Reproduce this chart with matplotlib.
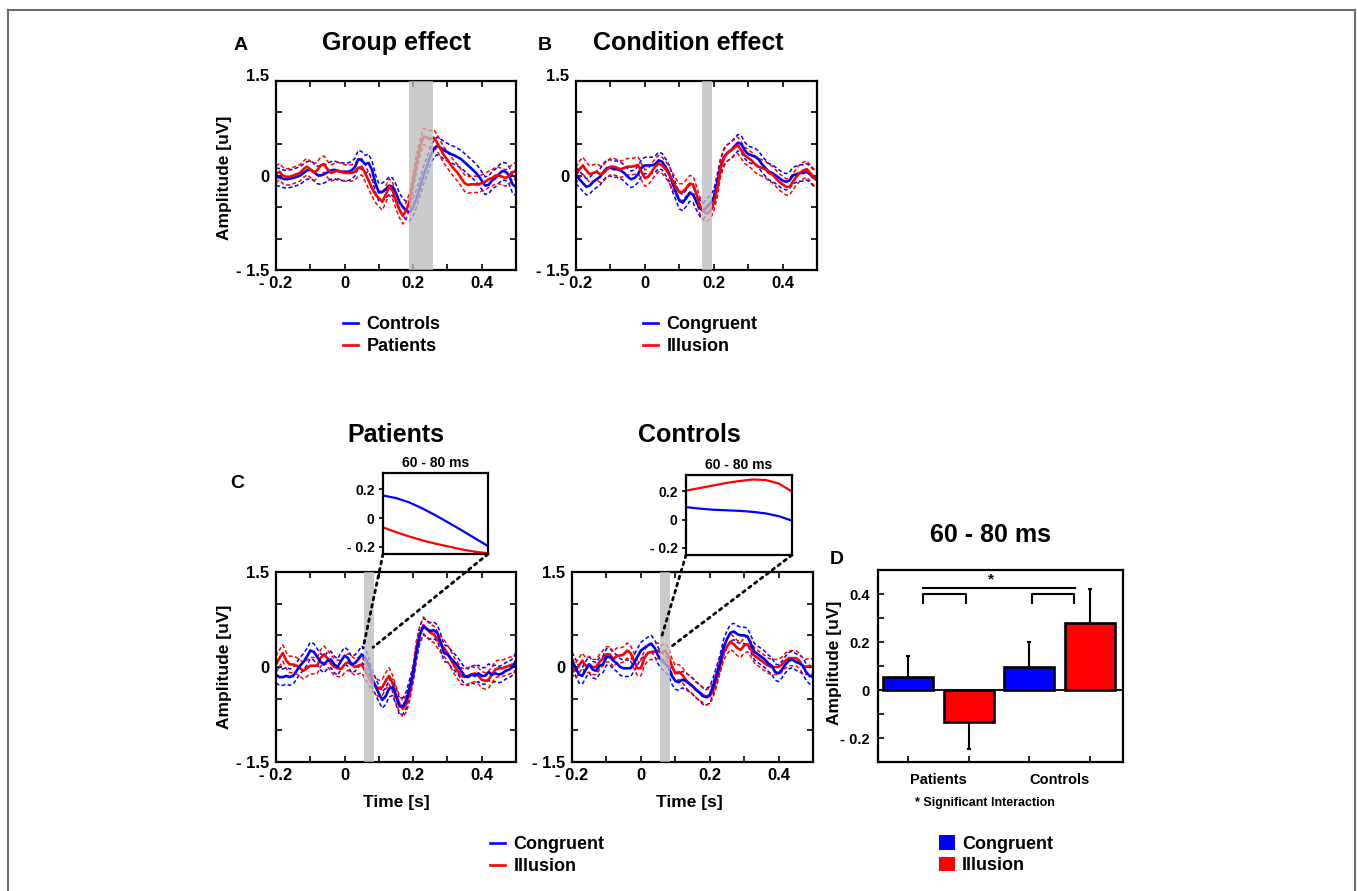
import numpy as np
import matplotlib
matplotlib.use('Agg')
import matplotlib.pyplot as plt
from matplotlib.patches import ConnectionPatch, Patch
from matplotlib.lines import Line2D

plt.rcParams['font.family'] = ['Liberation Sans', 'DejaVu Sans']
plt.rcParams['font.weight'] = 'bold'
plt.rcParams['axes.labelweight'] = 'bold'

# ---------------- data ----------------
time = np.round(np.arange(-0.20, 0.5001, 0.01), 2)   # sample times [s]

# Panel A - group effect
a_controls = [-0.02, -0.03, -0.05, -0.06, -0.05, -0.04, -0.02, 0.00, 0.04, 0.08,
              0.09, 0.06, 0.01, 0.00, 0.02, 0.05, 0.08, 0.09, 0.07, 0.06,
              0.06, 0.06, 0.08, 0.13, 0.26, 0.24, 0.18, 0.20, 0.09, -0.12,
              -0.27, -0.26, -0.22, -0.16, -0.18, -0.28, -0.42, -0.50, -0.56, -0.58,
              -0.50, -0.36, -0.18, 0.00, 0.14, 0.30, 0.42, 0.47, 0.44, 0.40,
              0.37, 0.34, 0.32, 0.29, 0.26, 0.21, 0.16, 0.11, 0.06, 0.00,
              -0.08, -0.16, -0.15, -0.08, -0.04, 0.02, 0.07, 0.06, 0.00, -0.14,
              -0.18]
a_patients = [0.02, 0.06, 0.00, -0.02, -0.02, 0.00, 0.02, 0.04, 0.10, 0.14,
              0.10, 0.05, 0.08, 0.16, 0.18, 0.10, 0.04, 0.06, 0.08, 0.06,
              0.04, 0.04, 0.04, 0.06, 0.12, 0.14, 0.04, -0.08, -0.20, -0.30,
              -0.36, -0.42, -0.30, -0.18, -0.24, -0.40, -0.54, -0.64, -0.55, -0.40,
              -0.10, 0.20, 0.45, 0.62, 0.60, 0.58, 0.60, 0.52, 0.42, 0.32,
              0.25, 0.17, 0.10, 0.04, -0.04, -0.12, -0.15, -0.14, -0.14, -0.14,
              -0.12, -0.10, -0.06, -0.04, 0.00, 0.00, -0.02, -0.04, 0.00, 0.05,
              0.08]

# Panel B - condition effect
b_congruent = [0.00, -0.06, -0.12, -0.18, -0.16, -0.10, -0.06, -0.02, 0.06, 0.12,
               0.12, 0.10, 0.10, 0.08, 0.04, -0.02, -0.06, -0.04, 0.02, 0.12,
               0.16, 0.16, 0.16, 0.18, 0.24, 0.22, 0.14, 0.04, -0.12, -0.26,
               -0.40, -0.43, -0.36, -0.28, -0.30, -0.42, -0.52, -0.56, -0.50, -0.44,
               -0.36, -0.12, 0.14, 0.30, 0.36, 0.40, 0.46, 0.52, 0.50, 0.40,
               0.34, 0.32, 0.30, 0.26, 0.18, 0.12, 0.06, 0.04, 0.00, -0.04,
               -0.08, -0.10, -0.08, 0.00, 0.02, 0.04, 0.04, 0.06, 0.02, -0.04,
               -0.06]
b_illusion = [0.00, 0.10, 0.16, 0.08, 0.02, 0.04, 0.06, 0.02, 0.04, 0.10,
              0.14, 0.14, 0.12, 0.10, 0.12, 0.14, 0.14, 0.15, 0.17, 0.06,
              -0.04, -0.02, 0.06, 0.14, 0.19, 0.16, 0.10, 0.02, -0.08, -0.18,
              -0.26, -0.26, -0.20, -0.13, -0.14, -0.30, -0.48, -0.58, -0.60, -0.56,
              -0.44, -0.22, 0.12, 0.28, 0.36, 0.40, 0.44, 0.48, 0.40, 0.32,
              0.28, 0.24, 0.18, 0.14, 0.12, 0.10, 0.04, 0.02, -0.04, -0.10,
              -0.14, -0.18, -0.18, -0.10, -0.02, 0.04, 0.08, 0.10, 0.04, -0.02,
              -0.08]

# Panel C - patients
cp_congruent = [-0.12, -0.16, -0.16, -0.14, -0.16, -0.14, -0.06, 0.02, 0.08, 0.16,
                0.26, 0.24, 0.16, 0.08, 0.04, 0.10, 0.12, 0.04, 0.00, 0.10,
                0.18, 0.14, 0.04, 0.06, 0.12, 0.20, 0.15, 0.04, -0.18, -0.30,
                -0.42, -0.52, -0.46, -0.34, -0.32, -0.46, -0.62, -0.62, -0.52, -0.32,
                -0.10, 0.25, 0.52, 0.64, 0.60, 0.57, 0.58, 0.54, 0.40, 0.22,
                0.20, 0.14, 0.08, 0.02, -0.06, -0.14, -0.16, -0.12, -0.14, -0.10,
                -0.14, -0.14, -0.08, -0.12, -0.10, -0.12, -0.10, -0.06, -0.04, 0.00,
                0.10]
cp_illusion = [0.04, 0.14, 0.22, 0.10, 0.04, 0.04, 0.02, -0.02, -0.06, -0.02,
               0.02, 0.02, 0.02, 0.14, 0.20, 0.14, 0.06, 0.00, -0.02, -0.03,
               0.04, 0.08, 0.04, 0.00, 0.02, 0.04, -0.06, -0.15, -0.25, -0.30,
               -0.34, -0.32, -0.22, -0.14, -0.26, -0.44, -0.58, -0.66, -0.58, -0.40,
               -0.10, 0.30, 0.52, 0.66, 0.60, 0.54, 0.52, 0.44, 0.36, 0.30,
               0.22, 0.12, 0.02, -0.06, -0.14, -0.16, -0.14, -0.12, -0.10, -0.14,
               -0.20, -0.22, -0.20, -0.12, -0.04, -0.02, -0.02, 0.00, 0.02, 0.04,
               0.04]

# Panel C - controls
cc_congruent = [0.10, 0.00, -0.12, -0.14, -0.04, 0.04, -0.04, -0.06, 0.02, 0.04,
                0.16, 0.16, 0.10, 0.06, 0.00, -0.02, -0.02, -0.02, 0.06, 0.16,
                0.26, 0.30, 0.34, 0.37, 0.30, 0.18, 0.10, 0.06, 0.00, -0.14,
                -0.22, -0.24, -0.20, -0.22, -0.26, -0.30, -0.36, -0.40, -0.46, -0.47,
                -0.44, -0.30, -0.12, 0.06, 0.30, 0.44, 0.54, 0.56, 0.52, 0.50,
                0.50, 0.48, 0.36, 0.24, 0.20, 0.16, 0.12, 0.06, 0.02, -0.08,
                -0.10, -0.04, 0.04, 0.10, 0.12, 0.08, 0.06, 0.02, -0.08, -0.14,
                -0.16]
cc_illusion = [0.02, -0.06, 0.02, 0.10, 0.02, 0.04, 0.00, 0.00, 0.08, 0.14,
               0.20, 0.20, 0.12, 0.18, 0.18, 0.20, 0.26, 0.22, 0.10, -0.02,
               -0.02, 0.14, 0.22, 0.24, 0.24, 0.26, 0.22, 0.26, 0.18, 0.02,
               -0.10, -0.08, -0.12, -0.20, -0.26, -0.30, -0.36, -0.40, -0.44, -0.48,
               -0.46, -0.36, -0.18, 0.02, 0.22, 0.32, 0.40, 0.36, 0.30, 0.27,
               0.34, 0.36, 0.28, 0.18, 0.14, 0.10, 0.06, 0.02, 0.00, 0.00,
               0.00, 0.04, 0.10, 0.14, 0.14, 0.14, 0.10, 0.02, 0.00, 0.02,
               0.00]

# standard errors (dashed bands)
sem_a = {'controls': 0.14, 'patients': 0.13}
sem_b = {'congruent': 0.13, 'illusion': 0.13}
sem_cp = {'congruent': 0.13, 'illusion': 0.13}
sem_cc = {'congruent': 0.13, 'illusion': 0.12}

# significant windows [s]
window_a = (0.187, 0.258)
window_b = (0.167, 0.194)
window_c = (0.057, 0.085)

# insets 60-80 ms
inset_time = [0.06, 0.0625, 0.065, 0.0675, 0.07, 0.0725, 0.075, 0.0775, 0.08]
ip_congruent = [0.158, 0.140, 0.110, 0.068, 0.020, -0.032, -0.085, -0.140, -0.195]
ip_illusion = [-0.064, -0.098, -0.128, -0.155, -0.178, -0.198, -0.218, -0.234, -0.245]
ic_congruent = [0.088, 0.078, 0.070, 0.066, 0.062, 0.055, 0.044, 0.024, -0.007]
ic_illusion = [0.205, 0.222, 0.240, 0.258, 0.272, 0.283, 0.280, 0.255, 0.198]

# Panel D - mean amplitude 60-80 ms
groups = ['Patients', 'Controls']
conditions = ['Congruent', 'Illusion']
bar_means = [0.056, -0.133, 0.095, 0.280]   # P-Cong, P-Ill, C-Cong, C-Ill
bar_errors = [0.085, 0.113, 0.104, 0.142]

# ticks
erp_xticks = [-0.2, -0.1, 0.0, 0.1, 0.2, 0.3, 0.4, 0.5]
erp_xticklabels = ['- 0.2', '', '0', '', '0.2', '', '0.4', '']
erp_yticks = [-1.5, -1.0, -0.5, 0.0, 0.5, 1.0, 1.5]
erp_yticklabels = ['- 1.5', '', '', '0', '', '', '1.5']
inset_yticks = [-0.2, 0.0, 0.2]
inset_yticklabels = ['- 0.2', '0', '0.2']
bar_yticks = [-0.2, -0.1, 0.0, 0.1, 0.2, 0.3, 0.4]
bar_yticklabels = ['- 0.2', '', '0', '', '0.2', '', '0.4']

BLUE = '#0000ff'
RED = '#ff0000'

# ---------------- figure ----------------
W, H = 1357, 891
fig = plt.figure(figsize=(W / 100, H / 100), dpi=100)


def box(x0, y0, x1, y1):
    return [x0 / W, 1 - y1 / H, (x1 - x0) / W, (y1 - y0) / H]


def ftext(x, y, s, size, **kw):
    kw.setdefault('ha', 'center')
    kw.setdefault('va', 'center')
    fig.text(x / W, 1 - y / H, s, fontsize=size, fontweight='bold', **kw)


def line_legend(x, y, labels):
    fig.legend([Line2D([], [], color=BLUE, lw=1.9), Line2D([], [], color=RED, lw=1.9)],
               labels, loc='upper left', bbox_to_anchor=(x / W, 1 - y / H),
               frameon=False, fontsize=13, handlelength=0.85, handletextpad=0.45,
               labelspacing=0.29, borderpad=0, borderaxespad=0)


def erp_axes(rect, blue, red, sb, sr, window, blue_on_top=False, raise_top=False):
    ax = fig.add_axes(rect)
    blue = np.asarray(blue)
    red = np.asarray(red)
    dash = (0, (2.6, 1.6))
    for m, s, c in ((blue, sb, BLUE), (red, sr, RED)):
        ax.plot(time, m + s, color=c, lw=1.1, ls=dash)
        ax.plot(time, m - s, color=c, lw=1.1, ls=dash)
    order = [(red, RED), (blue, BLUE)] if blue_on_top else [(blue, BLUE), (red, RED)]
    for m, c in order:
        ax.plot(time, m, color=c, lw=1.9)
    ax.axvspan(window[0], window[1], color='#bdbdbd', alpha=0.78, lw=0, zorder=5)
    ax.set_xlim(-0.2, 0.5)
    ax.set_ylim(-1.5, 1.5)
    ax.set_xticks(erp_xticks)
    ax.set_xticklabels(erp_xticklabels)
    ax.set_yticks(erp_yticks)
    ax.set_yticklabels(erp_yticklabels)
    ax.tick_params(direction='in', top=True, right=True, length=4, width=1.2,
                   labelsize=12)
    ax.tick_params(axis='x', pad=4)
    ax.tick_params(axis='y', pad=5)
    if raise_top:
        ax.get_yticklabels()[-1].set_va('baseline')
    for sp in ax.spines.values():
        sp.set_linewidth(1.6)
    return ax


def inset_axes(rect, blue, red):
    ax = fig.add_axes(rect)
    ax.plot(inset_time, blue, color=BLUE, lw=1.6)
    ax.plot(inset_time, red, color=RED, lw=1.6)
    ax.set_xlim(0.06, 0.08)
    ax.set_ylim(-0.25, 0.315)
    ax.set_xticks([])
    ax.set_yticks(inset_yticks)
    ax.set_yticklabels(inset_yticklabels)
    ax.tick_params(axis='y', direction='out', length=3, width=1.2, labelsize=10, pad=3)
    for sp in ax.spines.values():
        sp.set_linewidth(1.6)
    ax.set_title('60 - 80 ms', fontsize=10, fontweight='bold', pad=4)
    return ax


def connect(inset, ax, pA, pB):
    for corner, pt in ((0, pA), (1, pB)):
        con = ConnectionPatch(xyA=(corner, 0), coordsA=inset.transAxes,
                              xyB=pt, coordsB=ax.transData,
                              ls=':', lw=2.0, color='black', zorder=10)
        fig.add_artist(con)


# Panel A
axA = erp_axes(box(276, 81, 516, 270), a_controls, a_patients,
               sem_a['controls'], sem_a['patients'], window_a, raise_top=True)
ftext(241, 46, 'A', 14)
ftext(396, 43, 'Group effect', 18)
ftext(225, 178, 'Amplitude [uV]', 12.5, rotation=90)
line_legend(343, 316, ['Controls', 'Patients'])

# Panel B
axB = erp_axes(box(576, 81, 817, 270), b_congruent, b_illusion,
               sem_b['congruent'], sem_b['illusion'], window_b, raise_top=True)
ftext(545, 46, 'B', 14)
ftext(688, 43, 'Condition effect', 18)
line_legend(643, 316, conditions)

# Panel C - patients
axCP = erp_axes(box(276, 572, 516, 762), cp_congruent, cp_illusion,
                sem_cp['congruent'], sem_cp['illusion'], window_c, blue_on_top=True)
ftext(396, 435, 'Patients', 18)
ftext(237, 484, 'C', 14)
ftext(225, 667, 'Amplitude [uV]', 12.5, rotation=90)
ftext(396, 802, 'Time [s]', 12.5)
inP = inset_axes(box(383, 473, 488, 554), ip_congruent, ip_illusion)
connect(inP, axCP, (0.054, 0.30), (0.083, 0.31))

# Panel C - controls
axCC = erp_axes(box(572, 572, 813, 762), cc_congruent, cc_illusion,
                sem_cc['congruent'], sem_cc['illusion'], window_c, blue_on_top=True)
ftext(689, 435, 'Controls', 18)
ftext(689, 802, 'Time [s]', 12.5)
inC = inset_axes(box(686, 475, 792, 555), ic_congruent, ic_illusion)
connect(inC, axCC, (0.060, 0.47), (0.083, 0.30))

line_legend(490, 836, conditions)

# Panel D - bars
axD = fig.add_axes(box(878, 570, 1123, 762))
xpos = [1, 2, 3, 4]
bar_colors = [BLUE, RED, BLUE, RED]
axD.bar(xpos, bar_means, width=0.82, color=bar_colors, edgecolor='black',
        linewidth=1.9, zorder=3)
lower = [0 if m >= 0 else e for m, e in zip(bar_means, bar_errors)]
upper = [e if m >= 0 else 0 for m, e in zip(bar_means, bar_errors)]
axD.errorbar(xpos, bar_means, yerr=[lower, upper], fmt='none', ecolor='black',
             elinewidth=1.5, capsize=1.5, capthick=1.5, zorder=2)
axD.axhline(0, color='black', lw=1.3, zorder=4)
axD.set_xlim(0.5, 4.55)
axD.set_ylim(-0.3, 0.5)
axD.set_xticks(xpos)
axD.set_xticklabels([''] * 4)
axD.set_xticks([1.5, 3.5], minor=True)
axD.set_xticklabels(groups, minor=True, fontsize=10.5)
axD.tick_params(axis='x', which='minor', length=0, pad=8)
axD.tick_params(axis='x', which='major', direction='in', length=4, width=1.2)
axD.set_yticks(bar_yticks)
axD.set_yticklabels(bar_yticklabels)
axD.tick_params(axis='y', direction='in', length=4, width=1.2, labelsize=10.5, pad=6)
for sp in axD.spines.values():
    sp.set_linewidth(1.6)
# significance brackets
axD.plot([1.25, 3.76], [0.425, 0.425], color='black', lw=1.5)
axD.plot([1.25, 1.25, 1.95, 1.95], [0.363, 0.40, 0.40, 0.363], color='black', lw=1.5)
axD.plot([3.05, 3.05, 3.74, 3.74], [0.363, 0.40, 0.40, 0.363], color='black', lw=1.5)
axD.text(2.37, 0.462, '*', ha='center', va='center', fontsize=11, fontweight='bold')

ftext(837, 559, 'D', 14)
ftext(991, 535, '60 - 80 ms', 18)
ftext(835, 663, 'Amplitude [uV]', 12.5, rotation=90)
ftext(985, 803, '* Significant Interaction', 9)
fig.legend([Patch(facecolor=BLUE), Patch(facecolor=RED)], conditions,
           loc='upper left', bbox_to_anchor=(939 / W, 1 - 835 / H), frameon=False,
           fontsize=13, handlelength=0.88, handleheight=0.88, handletextpad=0.4,
           labelspacing=0.22, borderpad=0, borderaxespad=0)

# outer frame
for xs, ys in (([8, 8], [10, H]), ([8, 1355], [10, 10]), ([1355, 1355], [10, H])):
    fig.add_artist(Line2D([x / W for x in xs], [1 - y / H for y in ys],
                          transform=fig.transFigure, color='#6e6e6e', lw=1.5))

fig.savefig('out.png', dpi=100)
